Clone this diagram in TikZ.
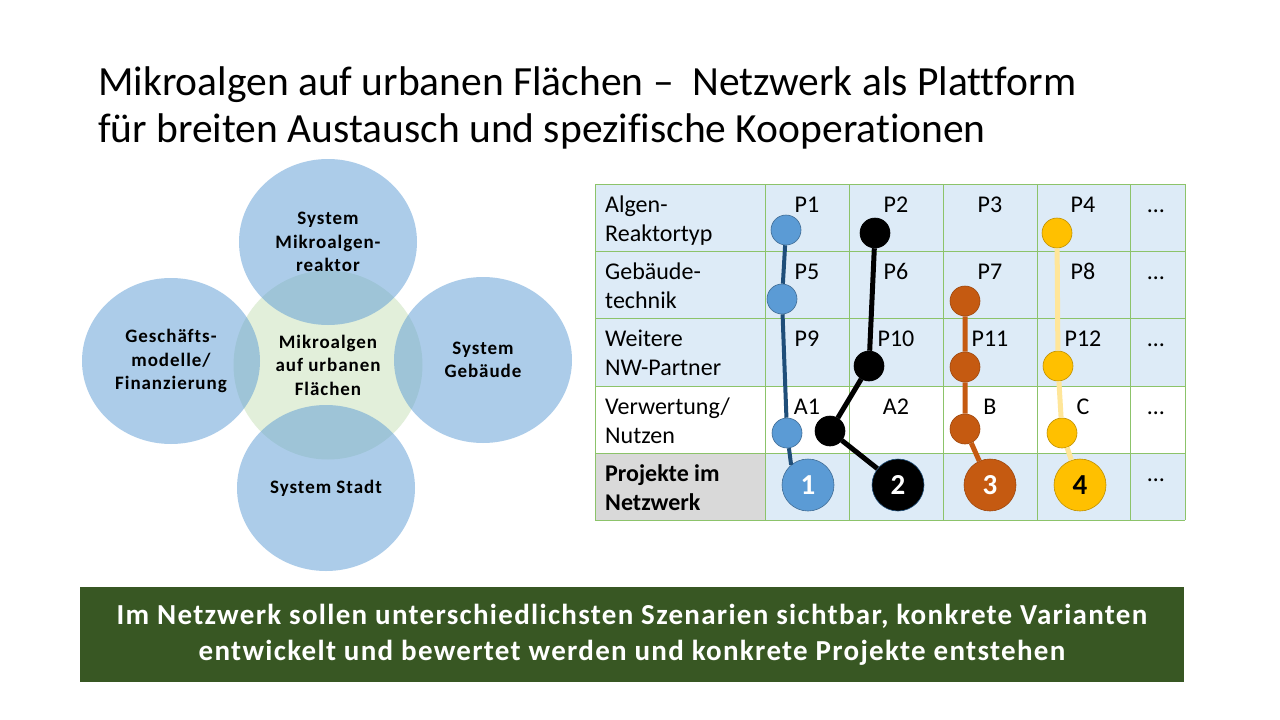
\documentclass[tikz,border=0pt]{standalone}
\usepackage{fontspec}
\setmainfont{Carlito}[Ligatures=NoCommon]
\usepackage{xcolor}
\usetikzlibrary{shapes.geometric}

\definecolor{bubbleblue}{HTML}{5B9BD5}
\definecolor{coregreen}{HTML}{E2EFDA}
\definecolor{cellblue}{HTML}{DDEBF7}
\definecolor{cellgray}{HTML}{D9D9D9}
\definecolor{gridgreen}{HTML}{8CC36A}
\definecolor{bannergreen}{HTML}{385723}
\definecolor{projblue}{HTML}{5B9BD5}
\definecolor{projnavy}{HTML}{1F4E79}
\definecolor{projorange}{HTML}{C55A11}
\definecolor{projyellow}{HTML}{FFC000}
\definecolor{projpale}{HTML}{FFE699}

\begin{document}
\begin{tikzpicture}[x=1pt,y=-1pt,
  bubble/.style={ellipse, fill=bubbleblue, fill opacity=0.5, text opacity=1,
    minimum width=178pt, minimum height=166pt, inner sep=0pt, align=center,
    font=\fontsize{19}{23.5}\selectfont\bfseries\addfontfeatures{LetterSpace=5}},
  cell/.style={anchor=base, inner sep=0pt, font=\fontsize{24}{29}\selectfont},
  rowlabel/.style={anchor=base west, inner sep=0pt, font=\fontsize{24}{29}\selectfont},
  dot/.style={circle, inner sep=0pt, minimum size=30pt, line width=0.6pt},
  bigdot/.style={circle, inner sep=0pt, minimum size=52pt, line width=0.6pt,
    font=\fontsize{29}{29}\selectfont\bfseries},
  link/.style={line width=5pt}]

\fill[white] (0,0) rectangle (1280,720);
\useasboundingbox (0,0) rectangle (1280,720);

% title
\node[anchor=base west, inner sep=0pt, font=\fontsize{41.5}{43}\selectfont] (title1) at (98,95)
  {Mikroalgen auf urbanen Flächen –\hspace{0.45em}Netzwerk als Plattform};
\node[anchor=base west, inner sep=0pt, font=\fontsize{41.5}{43}\selectfont] (title2) at (98,142)
  {für breiten Austausch und spezifische Kooperationen};

% bubbles
\node[circle, fill=coregreen, minimum size=189pt, inner sep=0pt, align=center,
  font=\fontsize{19}{23.5}\selectfont\bfseries\addfontfeatures{LetterSpace=5}] (core) at (328,365)
  {Mikroalgen\\auf urbanen\\Flächen};
\node[bubble] (reactor) at (328,242) {System\\Mikroalgen-\\reaktor};
\node[bubble] (business) at (171,361) {Geschäfts-\\modelle/\\Finanzierung};
\node[bubble] (building) at (483,360) {System\\Gebäude};
\node[bubble] (city) at (326,488) {System Stadt};

% table
\fill[cellblue] (595,184) rectangle (1185,386);
\fill[cellblue] (765,453) rectangle (1185,520);
\fill[cellgray] (595,453) rectangle (765,520);
\foreach \x in {595,765,849,943,1037,1130,1185}
  \draw[gridgreen, line width=1pt] (\x,184) -- (\x,520);
\foreach \y in {184,251,318,386,453,520}
  \draw[gridgreen, line width=1pt] (595,\y) -- (1185,\y);

\node[rowlabel] (lab1) at (605,212) {\begin{tabular}[t]{@{}l@{}}Algen-\\Reaktortyp\end{tabular}};
\node[rowlabel] (lab2) at (605,279) {\begin{tabular}[t]{@{}l@{}}Gebäude-\\technik\end{tabular}};
\node[rowlabel] (lab3) at (605,346) {\begin{tabular}[t]{@{}l@{}}Weitere\\NW-Partner\end{tabular}};
\node[rowlabel] (lab4) at (605,414) {\begin{tabular}[t]{@{}l@{}}Verwertung/\\Nutzen\end{tabular}};
\node[rowlabel, font=\fontsize{24}{29}\selectfont\bfseries] (lab5) at (605,481)
  {\begin{tabular}[t]{@{}l@{}}Projekte im\\Netzwerk\end{tabular}};

\foreach \r/\y in {0/212,1/279,2/346}
  \foreach \c/\x in {1/807,2/896,3/990,4/1083} {
    \pgfmathtruncatemacro\n{4*\r+\c}
    \node[cell] (p\n) at (\x,\y) {P\n};
  }
\foreach \t/\x in {A1/807,A2/896,B/990,C/1083}
  \node[cell] (use-\t) at (\x,414) {\t};
\foreach \y [count=\i] in {212,279,346,414,481}
  \node[cell] (more\i) at (1156,\y) {…};

% project paths
\node[dot, fill=projblue, draw=projblue!70!black] (b1) at (786,230) {};
\node[dot, fill=projblue, draw=projblue!70!black] (b2) at (782,299) {};
\node[dot, fill=projblue, draw=projblue!70!black] (b3) at (787,433) {};
\node[bigdot, fill=projblue, draw=projblue!70!black, text=white] (n1) at (808,485) {1};

\node[dot, fill=black, draw=black] (k1) at (875,233) {};
\node[dot, fill=black, draw=black] (k2) at (869,366) {};
\node[dot, fill=black, draw=black] (k3) at (830,431) {};
\node[bigdot, fill=black, draw=projnavy, text=white] (n2) at (898,485) {2};

\node[dot, fill=projorange, draw=projorange!80!black] (o1) at (965,301) {};
\node[dot, fill=projorange, draw=projorange!80!black] (o2) at (965,367) {};
\node[dot, fill=projorange, draw=projorange!80!black] (o3) at (965,429) {};
\node[bigdot, fill=projorange, draw=projorange!80!black, text=white] (n3) at (990,485) {3};

\node[dot, fill=projyellow, draw=projyellow!75!black] (y1) at (1057,233) {};
\node[dot, fill=projyellow, draw=projyellow!75!black] (y2) at (1058,366) {};
\node[dot, fill=projyellow, draw=projyellow!75!black] (y3) at (1062,433) {};
\node[bigdot, fill=projyellow, draw=projyellow!75!black, text=black] (n4) at (1080,485) {4};

\draw[link, projnavy, line width=4pt] (b1) -- (b2) -- (b3);
\draw[link, projnavy, line width=4pt] (b3) -- (n1.130);
\draw[link, black] (k1) -- (k2) -- (k3) -- (n2);
\draw[link, projorange] (o1) -- (o2) -- (o3) -- (n3);
\draw[link, projpale] (y1) -- (y2) -- (y3) -- (n4);

% message
\node[fill=bannergreen, minimum width=1104pt, minimum height=95pt, inner sep=0pt,
  text=white, align=center,
  font=\fontsize{29}{36}\selectfont\bfseries\addfontfeatures{LetterSpace=4.5}] (msg) at (632,634.5)
  {Im Netzwerk sollen unterschiedlichsten Szenarien sichtbar, konkrete Varianten\\
   entwickelt und bewertet werden und konkrete Projekte entstehen};
\end{tikzpicture}
\end{document}
